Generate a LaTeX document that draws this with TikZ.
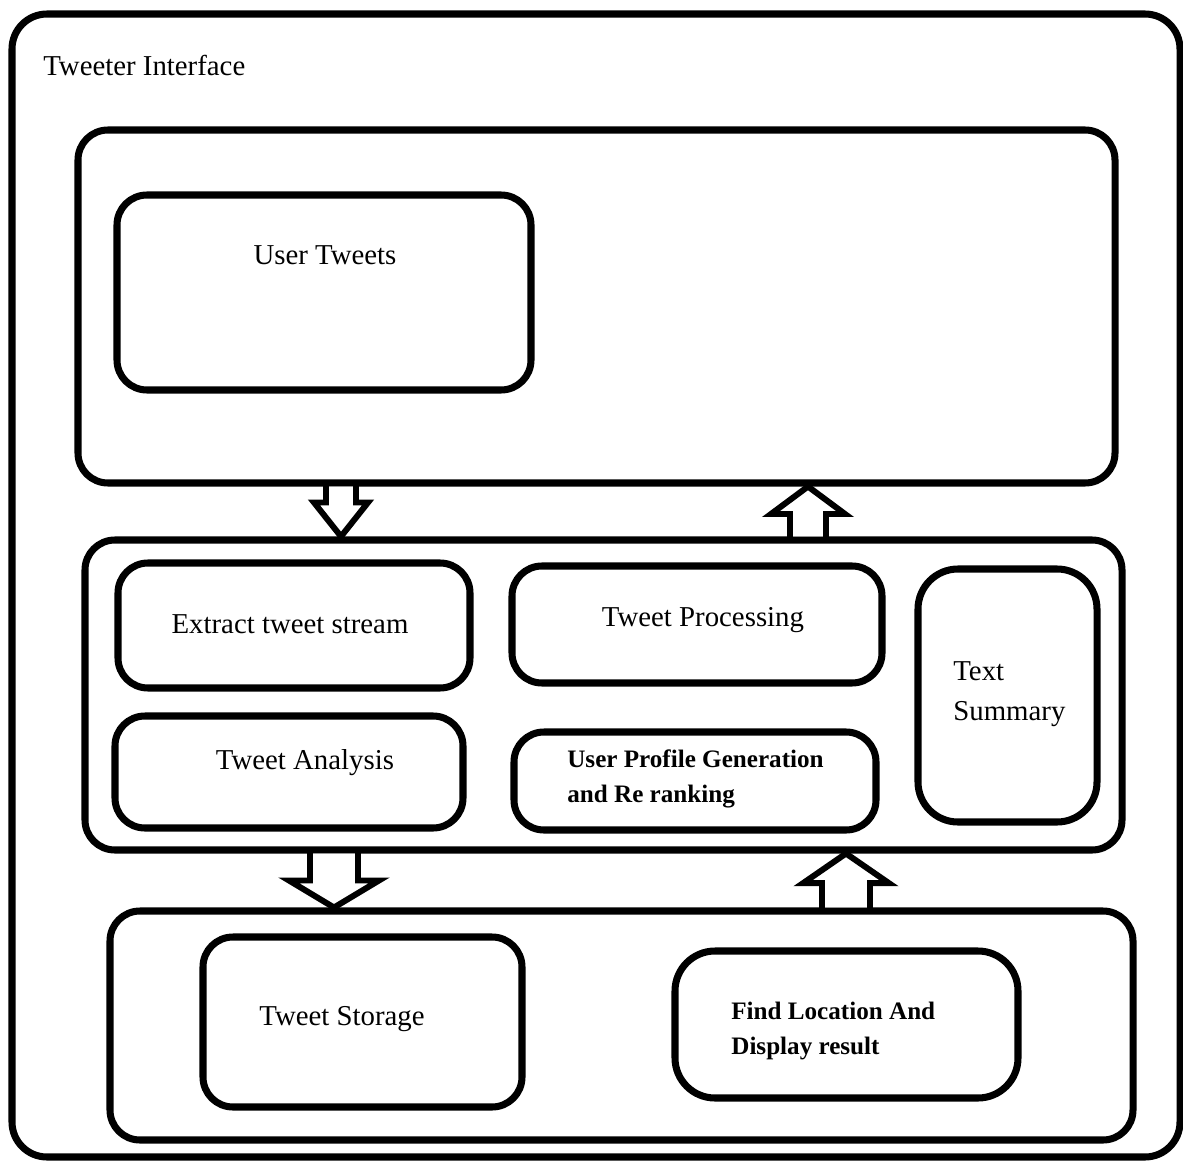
\documentclass[tikz,border=0pt]{standalone}
\usepackage{fontspec}
\setmainfont{Liberation Serif}
\usetikzlibrary{calc, fit, positioning}
\tikzset{
  every picture/.style={line cap=round, line join=round},
  frame/.style={draw, line width=4pt, rounded corners=0.7cm, inner sep=0pt},
  box/.style={draw, line width=4pt, rounded corners=0.6cm, inner sep=0pt},
  lbl/.style={font=\fontsize{16.4}{23}\selectfont, align=left, inner sep=0pt},
  blbl/.style={font=\fontsize{14.3}{19.5}\selectfont\bfseries, align=left, inner sep=0pt},
  arrowline/.style={draw, fill=white, line width=3.4pt, line join=miter},
}
% hollow block arrow: start, end, head position (fraction), shaft half width, head half width
\newcommand\blockarrow[5]{%
  \draw[arrowline] ($(#1)+(-#4,0)$) -- ($(#1)!#3!(#2)+(-#4,0)$) -- ($(#1)!#3!(#2)+(-#5,0)$)
    -- (#2) -- ($(#1)!#3!(#2)+(#5,0)$) -- ($(#1)!#3!(#2)+(#4,0)$) -- ($(#1)+(#4,0)$);
}
\begin{document}
\begin{tikzpicture}[x=0.02cm, y=-0.02cm]
  \useasboundingbox (0,0) rectangle (1183,1162);
  % outer frame and the three layers
  \node[frame, fit={(12,14) (1180,1157)}] (iface) {};
  \node[lbl, anchor=west] (ifacelbl) at (43,65) {Tweeter Interface};
  \node[box, fit={(78,130) (1115,483)}] (top) {};
  \node[box, fit={(85,540) (1122,850)}] (mid) {};
  \node[box, fit={(110,911) (1133,1140)}] (bot) {};
  % top layer
  \node[box, fit={(117,195) (531,390)}] (tweets) {};
  \node[lbl] (tweetslbl) at (325,255) {User Tweets};
  % middle layer
  \node[box, fit={(118,563) (470,688)}] (extract) {};
  \node[lbl] at (290,624) {Extract tweet stream};
  \node[box, fit={(512,566) (882,683)}] (proc) {};
  \node[lbl] at (703,620) {Tweet Processing};
  \node[box, fit={(115,716) (463,828)}] (analysis) {};
  \node[lbl] at (305,763) {Tweet Analysis};
  \node[box, fit={(514,732) (876,830)}] (profile) {};
  \node[blbl, anchor=west] at (567,779) {User Profile Generation\\and Re ranking};
  \node[box, rounded corners=0.8cm, fit={(918,569) (1097,822)}] (summary) {};
  \node[lbl, anchor=west] at (953,694) {Text\\Summary};
  % bottom layer
  \node[box, fit={(203,937) (522,1107)}] (storage) {};
  \node[lbl] at (342,1019) {Tweet Storage};
  \node[box, rounded corners=0.8cm, fit={(675,951) (1018,1098)}] (locate) {};
  \node[blbl, anchor=west] at (731,1031) {Find Location And\\Display result};
  % arrows between the layers
  \coordinate (a1) at (top.south -| 341,0);
  \coordinate (b1) at (mid.north -| 341,0);
  \coordinate (a2) at (mid.north -| 808,0);
  \coordinate (b2) at (top.south -| 808,0);
  \coordinate (a3) at (mid.south -| 334,0);
  \coordinate (b3) at (bot.north -| 334,0);
  \coordinate (a4) at (bot.north -| 846,0);
  \coordinate (b4) at (mid.south -| 846,0);
  \blockarrow{a1}{b1}{0.32}{15}{27}
  \blockarrow{a2}{b2}{0.45}{18}{37}
  \blockarrow{a3}{b3}{0.5}{24}{45}
  \blockarrow{a4}{b4}{0.45}{24}{43}
\end{tikzpicture}
\end{document}
